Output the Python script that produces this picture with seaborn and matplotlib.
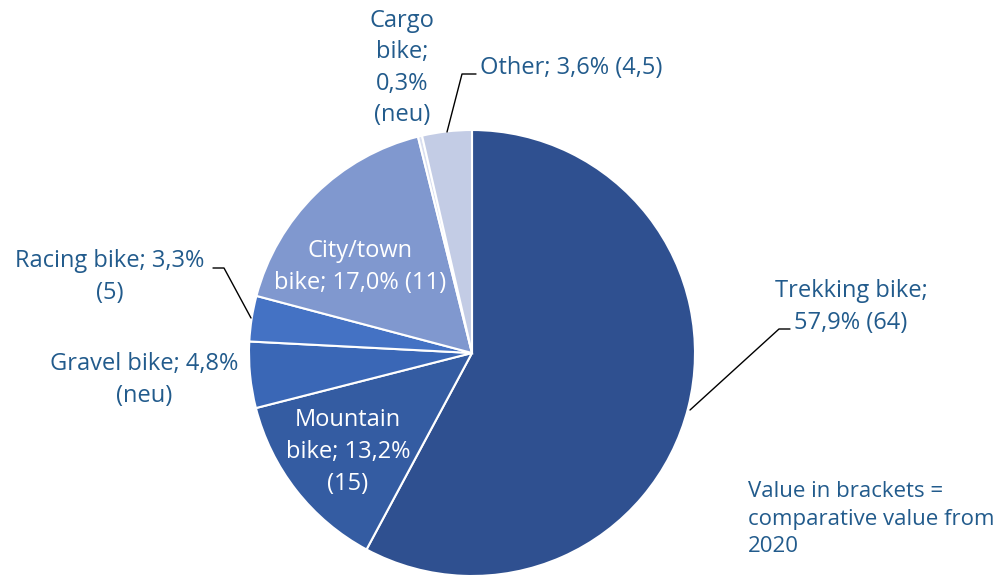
import matplotlib
matplotlib.use("Agg")
import matplotlib.pyplot as plt
import seaborn as sns

categories = ["Trekking bike", "Mountain bike", "Gravel bike", "Racing bike",
              "City/town bike", "Cargo bike", "Other"]
shares = [57.9, 13.2, 4.8, 3.3, 17.0, 0.3, 3.6]
previous = ["64", "15", "neu", "5", "11", "neu", "4,5"]
colors = ["#2f5090", "#345ca2", "#3a67b6", "#4472c4", "#8098cf", "#d9dff0", "#c3cce5"]

sns.set_theme(style="white")
plt.rcParams['font.family'] = ['Open Sans', 'DejaVu Sans']

TXT = "#225b8c"
W, H = 1000, 579
fig = plt.figure(figsize=(10, 5.79), dpi=100)
cx, cy, R = 472, 353, 223
ax = fig.add_axes([(cx - R) / W, (H - cy - R) / H, 2 * R / W, 2 * R / H])
ax.pie(shares, colors=colors, startangle=90, counterclock=False, radius=1,
       wedgeprops=dict(edgecolor="white", linewidth=1.5))
ax.set_xlim(-1, 1)
ax.set_ylim(-1, 1)
ax.set_aspect("equal")
ax.axis("off")


def P(px, py):
    return ((px - cx) / R, (cy - py) / R)


def lab(i, fmt, px, py, color=TXT, fs=17):
    pct = f"{shares[i]:.1f}".replace(".", ",")
    s = fmt.format(p=pct, v=previous[i])
    x, y = P(px, py)
    ax.text(x, y, s, ha="center", va="center", color=color, fontsize=fs,
            linespacing=1.42, clip_on=False)


lab(0, "Trekking bike;\n{p}% ({v})", 851, 307)
lab(1, "Mountain\nbike; {p}%\n({v})", 348, 452, color="white")
lab(2, "Gravel bike; {p}%\n({v})", 144, 380)
lab(3, "Racing bike; {p}%\n({v})", 110, 277)
lab(4, "City/town\nbike; {p}% ({v})", 360, 267, color="white")
lab(5, "Cargo\nbike;\n{p}%\n({v})", 402, 68)
lab(6, "Other; {p}% ({v})", 571, 68)


def leader(pts):
    xs, ys = zip(*[P(a, b) for a, b in pts])
    ax.plot(xs, ys, color="black", lw=1, clip_on=False)


leader([(690, 410), (779, 329), (790, 329)])
leader([(251, 318), (224, 268), (213, 268)])
leader([(447, 132), (462, 74), (476, 74)])

fx, fy = P(748, 519)
ax.text(fx, fy, "Value in brackets =\ncomparative value from\n2020", ha="left",
        va="center", color=TXT, fontsize=16, linespacing=1.4, clip_on=False)

fig.savefig("out.png", dpi=100, facecolor="white")
